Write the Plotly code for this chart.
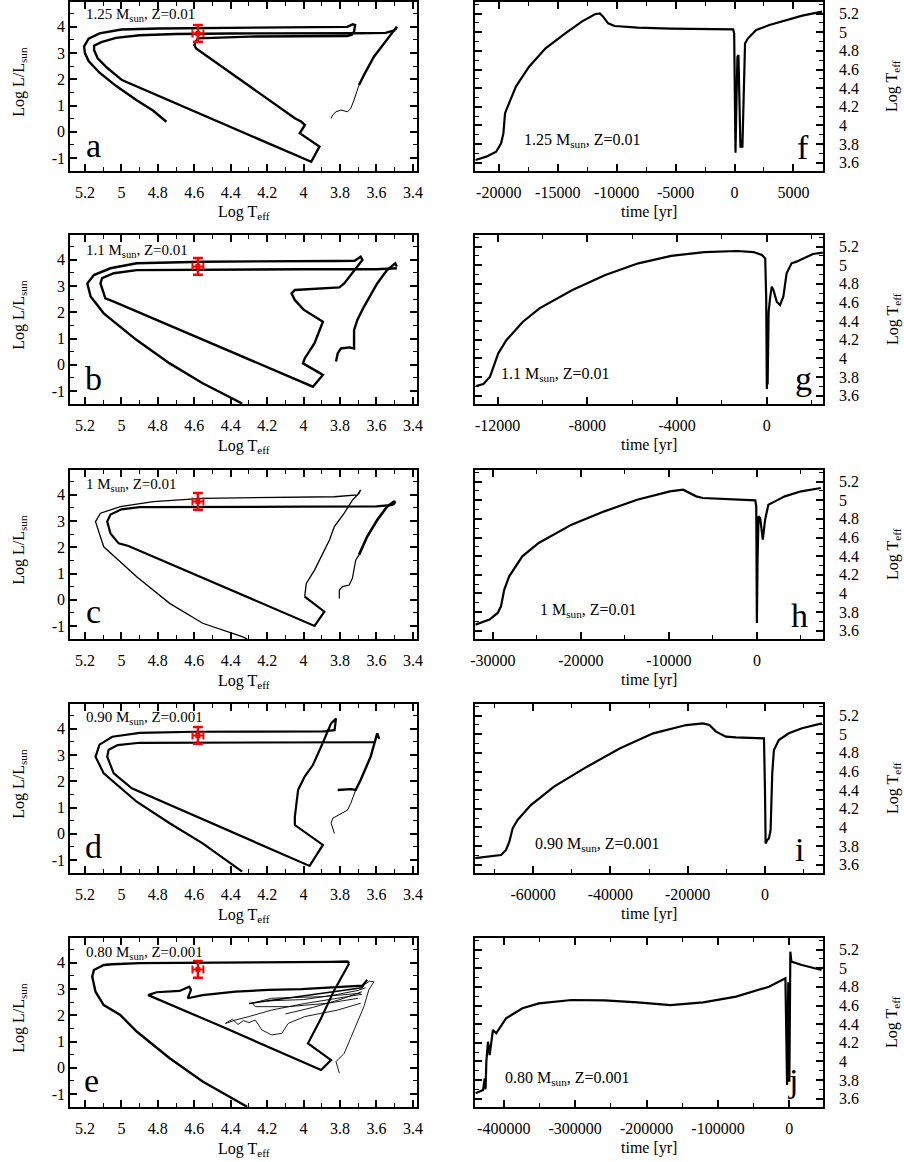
import plotly.graph_objects as go

W, H = 904, 1162
FONT = "Liberation Serif, Times New Roman, serif"

# ---------------- observed point (red) ----------------
OBS_T = [4.58]
OBS_L = [3.75]
OBS_ERR_T = [0.03]
OBS_ERR_L = [0.32]

# ---------------- panel a : 1.25 Msun, Z=0.01 ----------------
A_AGB_THIN_T = [3.849, 3.840, 3.822, 3.795, 3.759, 3.741, 3.723, 3.705, 3.696]
A_AGB_THIN_L = [0.51, 0.64, 0.76, 0.83, 0.76, 0.89, 1.21, 1.59, 1.78]
A_AGB_T = [3.696, 3.669, 3.614, 3.560, 3.515, 3.488, 3.497]
A_AGB_L = [1.78, 2.16, 2.86, 3.37, 3.75, 4.01, 3.88]
A_MAIN_T = [3.497, 3.55, 3.7, 4.0, 4.4, 4.7, 4.9, 5.03, 5.11, 5.15, 5.15, 5.13, 5.08, 4.997,
            3.958, 3.913, 3.993, 4.021, 3.993, 4.012, 4.048, 4.590, 4.600, 4.581, 4.3, 4.0, 3.80,
            3.759, 3.735, 3.723, 3.717, 3.73, 3.76, 4.0, 4.4, 4.8, 5.0, 5.12, 5.18, 5.205, 5.2,
            5.18, 5.12, 5.03, 4.916, 4.825, 4.753]
A_MAIN_L = [3.88, 3.77, 3.76, 3.76, 3.75, 3.73, 3.68, 3.58, 3.42, 3.28, 3.12, 2.8, 2.45, 1.97,
            -1.15, -0.57, -0.19, -0.06, 0.26, 0.38, 0.51, 3.18, 3.31, 3.56, 3.63, 3.65, 3.66,
            3.65, 3.7, 3.82, 4.07, 4.1, 4.0, 3.99, 3.97, 3.94, 3.9, 3.75, 3.55, 3.25, 3.0,
            2.7, 2.25, 1.75, 1.2, 0.8, 0.38]

# ---------------- panel b : 1.1 Msun, Z=0.01 ----------------
B_AGB_T = [3.822, 3.813, 3.795, 3.750, 3.723, 3.723, 3.705, 3.669, 3.596, 3.542, 3.497, 3.488]
B_AGB_L = [0.12, 0.43, 0.62, 0.66, 0.62, 1.32, 1.71, 2.21, 3.10, 3.61, 3.87, 3.75]
B_MAIN_T = [3.488, 3.6, 4.0, 4.5, 4.916, 5.042, 5.106, 5.115, 5.088, 5.042, 3.949, 3.894, 4.003,
            3.994, 3.940, 3.894, 4.0, 4.048, 4.066, 4.048, 3.804, 3.777, 3.677, 3.687, 3.72,
            3.831, 4.2, 4.554, 4.916, 5.06, 5.151, 5.187, 5.169, 5.097, 4.916, 4.735, 4.554, 4.337]
B_MAIN_L = [3.68, 3.64, 3.64, 3.63, 3.61, 3.49, 3.3, 3.1, 2.53, 2.41, -0.84, -0.39, 0.05,
            0.24, 0.82, 1.64, 2.1, 2.47, 2.72, 2.85, 2.95, 3.1, 4.0, 4.12, 3.97,
            3.96, 3.95, 3.93, 3.87, 3.68, 3.42, 3.1, 2.6, 1.96, 0.94, 0.05, -0.71, -1.48]

# ---------------- panel c : 1 Msun, Z=0.01 ----------------
C_AGB_THIN_T = [3.804, 3.804, 3.786, 3.750, 3.732, 3.714, 3.696]
C_AGB_THIN_L = [0.05, 0.37, 0.50, 0.56, 0.82, 1.51, 1.71]
C_AGB_T = [3.696, 3.651, 3.596, 3.542, 3.506, 3.497, 3.51]
C_AGB_L = [1.71, 2.41, 3.04, 3.55, 3.74, 3.74, 3.62]
C_MAIN_T = [3.51, 3.6, 4.0, 4.5, 4.9, 5.0, 5.06, 5.078, 5.06, 5.015, 4.961, 3.94, 3.886, 3.994]
C_MAIN_L = [3.62, 3.56, 3.55, 3.55, 3.53, 3.45, 3.25, 2.98, 2.53, 2.15, 2.05, -1.0, -0.46, 0.12]
C_THIN_T = [3.994, 3.985, 3.94, 3.904, 3.858, 3.831, 3.777, 3.732, 3.696, 3.687, 3.705, 3.831,
            4.193, 4.554, 4.825, 5.006, 5.115, 5.142, 5.097, 4.916, 4.735, 4.554, 4.337, 4.31]
C_THIN_L = [0.12, 0.62, 1.13, 1.64, 2.28, 2.79, 3.3, 3.8, 4.06, 4.19, 4.0, 3.93,
            3.91, 3.87, 3.74, 3.55, 3.30, 2.98, 2.02, 0.88, -0.14, -0.9, -1.41, -1.5]

# ---------------- panel d : 0.90 Msun, Z=0.001 ----------------
D_AGB_THIN_T = [3.831, 3.849, 3.840, 3.795, 3.759, 3.741, 3.714]
D_AGB_THIN_L = [0.01, 0.40, 0.59, 0.78, 0.90, 1.16, 1.67]
D_AGB_T = [3.813, 3.741, 3.714, 3.687, 3.632, 3.596, 3.585]
D_AGB_L = [1.67, 1.70, 1.67, 2.05, 2.94, 3.83, 3.62]
D_MAIN_T = [3.614, 3.8, 4.2, 4.6, 4.9, 5.02, 5.07, 5.078, 5.042, 4.943, 3.967, 3.894, 4.048,
            4.048, 4.030, 3.994, 3.949, 3.904, 3.849, 3.822, 3.83, 3.9, 4.2, 4.6, 4.9, 5.05,
            5.12, 5.142, 5.097, 4.916, 4.735, 4.554, 4.337]
D_MAIN_L = [3.49, 3.49, 3.49, 3.49, 3.47, 3.38, 3.2, 2.94, 2.3, 1.73, -1.23, -0.43, 0.33,
            0.65, 1.67, 2.18, 2.62, 3.32, 4.21, 4.4, 3.95, 3.90, 3.90, 3.89, 3.85, 3.7,
            3.4, 2.94, 2.3, 1.22, 0.4, -0.37, -1.45]

# ---------------- panel e : 0.80 Msun, Z=0.001 ----------------
E_OUTER_T = [3.75, 3.759, 3.85, 4.2, 4.6, 4.9, 5.05, 5.097, 5.151, 5.16, 5.142, 5.097, 5.006,
             4.916, 4.735, 4.554, 4.31]
E_OUTER_L = [3.98, 4.05, 4.04, 4.03, 4.01, 3.99, 3.95, 3.92, 3.73, 3.47, 2.9, 2.39, 2.01,
             1.38, 0.36, -0.53, -1.49]
E_INNER_T = [3.75, 3.831, 3.904, 3.967, 3.976, 3.849, 3.904, 4.446, 4.853, 4.807, 4.681, 4.627,
             4.618, 4.636, 4.554, 4.374, 4.193, 4.012, 3.831, 3.677, 3.651]
E_INNER_L = [3.98, 2.97, 1.89, 1.06, 0.93, 0.29, -0.09, 1.56, 2.77, 2.88, 2.93, 3.09,
             2.97, 2.65, 2.77, 2.9, 2.97, 3.0, 3.06, 3.13, 3.35]
E_FAN_T = [4.3, 4.0, 3.8, 3.68, 3.66]
E_FAN_L = [2.45, 2.75, 2.95, 3.05, 3.25]
E_THIN1_T = [3.804, 3.822, 3.777, 3.723, 3.669, 3.642, 3.614, 3.64, 3.66]
E_THIN1_L = [-0.21, 0.23, 0.55, 1.44, 2.33, 2.97, 3.28, 3.30, 3.2]
E_THIN2_T = [3.687, 3.904, 4.175, 4.283, 4.265, 4.084, 3.867, 3.70]
E_THIN2_L = [2.84, 2.71, 2.65, 2.46, 2.33, 2.33, 2.46, 2.65]
E_THIN3_T = [4.428, 4.374, 4.301, 4.175, 3.994, 3.80, 3.68]
E_THIN3_L = [1.69, 1.82, 1.95, 2.2, 2.45, 2.65, 2.8]
E_THIN4_T = [4.265, 4.229, 4.175, 4.12, 4.084, 3.994, 3.813, 3.687]
E_THIN4_L = [1.82, 1.44, 1.25, 1.31, 1.69, 1.95, 2.2, 2.46]
E_THIN5_T = [4.43, 4.39, 4.36, 4.33, 4.30, 4.265]
E_THIN5_L = [1.69, 1.85, 1.65, 1.80, 1.72, 1.82]
E_THIN6_T = [4.2, 4.0, 3.85, 3.7, 3.66]
E_THIN6_L = [2.55, 2.6, 2.75, 2.95, 3.05]
E_THIN7_T = [4.1, 3.95, 3.8, 3.68]
E_THIN7_L = [2.05, 2.3, 2.6, 2.9]

# ---------------- time panels ----------------
F_TIME = [-21983, -21061, -20223, -19804, -19609, -19469, -19246, -18548, -17430, -16034, -14358,
          -12962, -11845, -11425, -11146, -10727, -10168, -8213, -5420, -2627, -114, -30, 26, 82,
          166, 250, 334, 445, 501, 669, 781, 893, 1144, 1843, 2960, 4356, 5753, 7429]
F_TEFF = [3.628, 3.664, 3.717, 3.807, 3.914, 4.129, 4.201, 4.416, 4.63, 4.827, 4.988, 5.114, 5.193,
          5.203, 5.167, 5.096, 5.067, 5.049, 5.039, 5.031, 5.031, 4.988, 3.914, 3.706, 4.27, 4.737,
          4.755, 4.27, 3.771, 3.771, 4.272, 4.881, 4.935, 5.024, 5.078, 5.132, 5.178, 5.221]

G_TIME = [-12971, -12633, -12340, -12119, -11972, -11605, -10871, -10136, -8667, -7198, -5729,
          -4260, -2791, -1322, -588, -220, -73, -29, -10, 0, 15, 35, 80, 150, 220, 294, 441, 588,
          735, 881, 1102, 1322, 1616, 2057, 2497]
G_TEFF = [3.703, 3.725, 3.803, 3.947, 4.054, 4.197, 4.394, 4.537, 4.734, 4.895, 5.021, 5.10,
          5.142, 5.153, 5.142, 5.11, 5.074, 4.66, 4.2, 3.67, 4.0, 3.72, 4.5, 4.66, 4.77, 4.734,
          4.609, 4.573, 4.663, 4.913, 5.021, 5.039, 5.074, 5.121, 5.135]

H_TIME = [-31977, -30375, -29443, -29070, -28698, -28139, -26648, -24785, -21057, -17330, -13603,
          -9877, -8386, -7640, -6895, -6150, -2423, -186, -75, 0, 75, 186, 373, 559, 671, 932,
          1304, 2050, 3168, 5031, 7268]
H_TEFF = [3.664, 3.718, 3.79, 3.861, 4.04, 4.183, 4.398, 4.541, 4.738, 4.881, 5.006, 5.096,
          5.114, 5.078, 5.042, 5.024, 5.006, 4.999, 4.935, 3.682, 4.362, 4.827, 4.809, 4.612,
          4.576, 4.791, 4.953, 4.988, 5.042, 5.096, 5.132]

I_TIME = [-75405, -71724, -68301, -67017, -66161, -65305, -64021, -60598, -54606, -46047, -37488,
          -28929, -20370, -16091, -14379, -12667, -10099, -7532, -257, 0, 171, 599, 1027, 1455,
          1883, 2311, 3595, 6163, 9586, 14722]
I_TEFF = [3.667, 3.685, 3.703, 3.757, 3.846, 3.99, 4.079, 4.24, 4.437, 4.652, 4.849, 5.01, 5.099,
          5.117, 5.099, 5.028, 4.974, 4.967, 4.956, 4.401, 3.828, 3.864, 3.882, 3.971, 4.58, 4.831,
          4.938, 5.01, 5.064, 5.117]

J_TIME = [-439587, -433603, -429000, -426700, -425500, -424400, -422100, -419800, -417500, -415200,
          -410600, -406000, -396800, -373800, -350800, -304800, -258700, -212700, -166600, -120600,
          -74570, -28540, -5524, -3222, -1500, 0, 1381, 2762, 17490, 45110]
J_TEFF = [3.657, 3.675, 3.692, 3.818, 3.70, 3.997, 4.211, 4.068, 4.211, 4.337, 4.301, 4.355,
          4.462, 4.57, 4.623, 4.659, 4.655, 4.634, 4.605, 4.634, 4.695, 4.802, 4.892, 3.746,
          4.85, 3.782, 5.178, 5.071, 5.035, 4.981]

# ---------------- labels / ticks ----------------
MODEL_LABELS = ["1.25 M<sub>sun</sub>, Z=0.01", "1.1 M<sub>sun</sub>, Z=0.01",
                "1 M<sub>sun</sub>, Z=0.01", "0.90 M<sub>sun</sub>, Z=0.001",
                "0.80 M<sub>sun</sub>, Z=0.001"]
LEFT_LETTERS = ["a", "b", "c", "d", "e"]
RIGHT_LETTERS = ["f", "g", "h", "i", "j"]

HR_T_TICKS = [5.2, 5, 4.8, 4.6, 4.4, 4.2, 4, 3.8, 3.6, 3.4]
HR_L_TICKS = [-1, 0, 1, 2, 3, 4]
TEFF_TICKS = [3.6, 3.8, 4, 4.2, 4.4, 4.6, 4.8, 5, 5.2]
TIME_TICKS = [[-20000, -15000, -10000, -5000, 0, 5000],
              [-12000, -8000, -4000, 0],
              [-30000, -20000, -10000, 0],
              [-60000, -40000, -20000, 0],
              [-400000, -300000, -200000, -100000, 0]]
TIME_MINOR = [2500, 2000, 5000, 10000, 50000]
TIME_RANGE = [[-22000, 7500], [-13000, 2500], [-32000, 7500], [-75000, 15000], [-440000, 47000]]

HR_T_RANGE = [5.281, 3.378]
HR_L_RANGE = [-1.5, 4.95]
TEFF_RANGE = [3.51, 5.325]

# ---------------- layout geometry (pixels) ----------------
ROW_TOP = [2, 235, 470, 704, 938]
PH = 169
LEFT_X = [66, 417]
RIGHT_X = [476, 828]


def px_x(p):
    return p / W


def px_y(p):
    return 1 - p / H


def lab(v):
    return ("%g" % v).replace("\u2212", "-")


fig = go.Figure()


def axname(kind, n):
    return kind if n == 1 else f"{kind}{n}"


def add_line(n, xs, ys, width):
    fig.add_trace(go.Scatter(x=xs, y=ys, mode="lines",
                             line=dict(color="black", width=width),
                             xaxis=axname("x", n), yaxis=axname("y", n),
                             hoverinfo="skip", showlegend=False))


HR_SETS = [
    [(A_AGB_THIN_T, A_AGB_THIN_L, 1.0), (A_AGB_T, A_AGB_L, 2.4), (A_MAIN_T, A_MAIN_L, 2.4)],
    [(B_AGB_T, B_AGB_L, 2.4), (B_MAIN_T, B_MAIN_L, 2.4)],
    [(C_AGB_THIN_T, C_AGB_THIN_L, 1.2), (C_AGB_T, C_AGB_L, 2.6), (C_MAIN_T, C_MAIN_L, 2.2),
     (C_THIN_T, C_THIN_L, 1.3)],
    [(D_AGB_THIN_T, D_AGB_THIN_L, 1.0), (D_AGB_T, D_AGB_L, 2.4), (D_MAIN_T, D_MAIN_L, 2.2)],
    [(E_OUTER_T, E_OUTER_L, 2.4), (E_INNER_T, E_INNER_L, 2.2), (E_FAN_T, E_FAN_L, 1.5),
     (E_THIN1_T, E_THIN1_L, 0.9), (E_THIN2_T, E_THIN2_L, 0.9), (E_THIN3_T, E_THIN3_L, 0.9),
     (E_THIN4_T, E_THIN4_L, 0.9), (E_THIN5_T, E_THIN5_L, 0.9), (E_THIN6_T, E_THIN6_L, 0.9),
     (E_THIN7_T, E_THIN7_L, 0.9)],
]
TIME_SETS = [(F_TIME, F_TEFF), (G_TIME, G_TEFF), (H_TIME, H_TEFF), (I_TIME, I_TEFF),
             (J_TIME, J_TEFF)]

tickfont = dict(family=FONT, size=16, color="black")
common = dict(showline=True, linewidth=2, linecolor="black", mirror="allticks",
              ticks="inside", ticklen=7, tickwidth=1.5, tickcolor="black",
              showgrid=False, zeroline=False, tickfont=tickfont, fixedrange=True)

layout_axes = {}
annotations = []

for r in range(5):
    top, bot = ROW_TOP[r], ROW_TOP[r] + PH
    ydom = [px_y(bot), px_y(top)]
    nl, nr = 2 * r + 1, 2 * r + 2

    # ---- left HR diagram ----
    for T, L, wdt in HR_SETS[r]:
        add_line(nl, T, L, wdt)
    fig.add_trace(go.Scatter(
        x=OBS_T, y=OBS_L, mode="markers",
        marker=dict(color="red", size=5, symbol="square"),
        error_y=dict(type="data", array=OBS_ERR_L, color="red", thickness=2.5, width=5),
        error_x=dict(type="data", array=OBS_ERR_T, color="red", thickness=2, width=4),
        xaxis=axname("x", nl), yaxis=axname("y", nl), hoverinfo="skip", showlegend=False))

    layout_axes[axname("xaxis", nl)] = dict(
        common, domain=[px_x(LEFT_X[0]), px_x(LEFT_X[1])], anchor=axname("y", nl),
        range=HR_T_RANGE, tickmode="array", tickvals=HR_T_TICKS,
        ticktext=[lab(v) for v in HR_T_TICKS], ticklabelstandoff=6,
        minor=dict(ticks="inside", ticklen=4, tickwidth=1.2, tickcolor="black", dtick=0.1, tick0=0))
    layout_axes[axname("yaxis", nl)] = dict(
        common, domain=ydom, anchor=axname("x", nl), range=HR_L_RANGE,
        tickmode="array", tickvals=HR_L_TICKS, ticktext=[lab(v) for v in HR_L_TICKS],
        ticklabelstandoff=0,
        minor=dict(ticks="inside", ticklen=4, tickwidth=1.2, tickcolor="black", dtick=0.5, tick0=0))

    # ---- right time panel ----
    tx, ty = TIME_SETS[r]
    add_line(nr, tx, ty, 2.2)
    layout_axes[axname("xaxis", nr)] = dict(
        common, domain=[px_x(RIGHT_X[0]), px_x(RIGHT_X[1])], anchor=axname("y", nr),
        range=TIME_RANGE[r], tickmode="array", tickvals=TIME_TICKS[r],
        ticktext=[lab(v) for v in TIME_TICKS[r]], ticklabelstandoff=6,
        minor=dict(ticks="inside", ticklen=4, tickwidth=1.2, tickcolor="black",
                   dtick=TIME_MINOR[r], tick0=0))
    layout_axes[axname("yaxis", nr)] = dict(
        common, domain=ydom, anchor=axname("x", nr), side="right", range=TEFF_RANGE,
        tickmode="array", tickvals=TEFF_TICKS, ticktext=[lab(v) for v in TEFF_TICKS],
        ticklabelstandoff=11,
        minor=dict(ticks="inside", ticklen=4, tickwidth=1.2, tickcolor="black", dtick=0.1, tick0=0))

    # ---- axis titles ----
    annotations.append(dict(text="Log T<sub>eff</sub>", x=px_x(241.5), y=px_y(bot + 42),
                            xanchor="center", yanchor="middle"))
    annotations.append(dict(text="time [yr]", x=px_x(652), y=px_y(bot + 41),
                            xanchor="center", yanchor="middle"))
    annotations.append(dict(text="Log L/L<sub>sun</sub>", x=px_x(14), y=px_y(top + 80),
                            xanchor="center", yanchor="middle", textangle=-90))
    annotations.append(dict(text="Log T<sub>eff</sub>", x=px_x(899), y=px_y(top + 84),
                            xanchor="center", yanchor="middle", textangle=-90))

LEFT_LABEL_Y = [15, 251, 485, 718, 953]
RIGHT_LABEL_POS = [(523, 141), (500, 375), (540, 610), (534, 844), (504, 1078)]
LEFT_LETTER_POS = [(90, 145), (90, 378), (90, 611), (90, 846), (88, 1080)]
RIGHT_LETTER_POS = [(808, 147), (808, 378), (804, 615), (804, 849), (798, 1080)]

for r in range(5):
    annotations.append(dict(text=MODEL_LABELS[r], x=px_x(80), y=px_y(LEFT_LABEL_Y[r]),
                            xanchor="left", yanchor="middle",
                            font=dict(family=FONT, size=15, color="black")))
    annotations.append(dict(text=MODEL_LABELS[r], x=px_x(RIGHT_LABEL_POS[r][0]),
                            y=px_y(RIGHT_LABEL_POS[r][1]), xanchor="left", yanchor="middle"))
    annotations.append(dict(text=LEFT_LETTERS[r], x=px_x(LEFT_LETTER_POS[r][0]),
                            y=px_y(LEFT_LETTER_POS[r][1]), xanchor="center", yanchor="middle",
                            font=dict(family=FONT, size=34, color="black")))
    annotations.append(dict(text=RIGHT_LETTERS[r], x=px_x(RIGHT_LETTER_POS[r][0]),
                            y=px_y(RIGHT_LETTER_POS[r][1]), xanchor="center", yanchor="middle",
                            font=dict(family=FONT, size=34, color="black")))

for a in annotations:
    a.setdefault("font", dict(family=FONT, size=16, color="black"))
    a.update(xref="paper", yref="paper", showarrow=False)

fig.update_layout(width=W, height=H, margin=dict(l=0, r=0, t=0, b=0),
                  paper_bgcolor="white", plot_bgcolor="white", showlegend=False,
                  font=dict(family=FONT, size=16, color="black"),
                  annotations=annotations, **layout_axes)

fig.write_html("out.html", config={"displayModeBar": False},
               post_script="document.body.style.margin='0px';document.body.style.padding='0px';")
